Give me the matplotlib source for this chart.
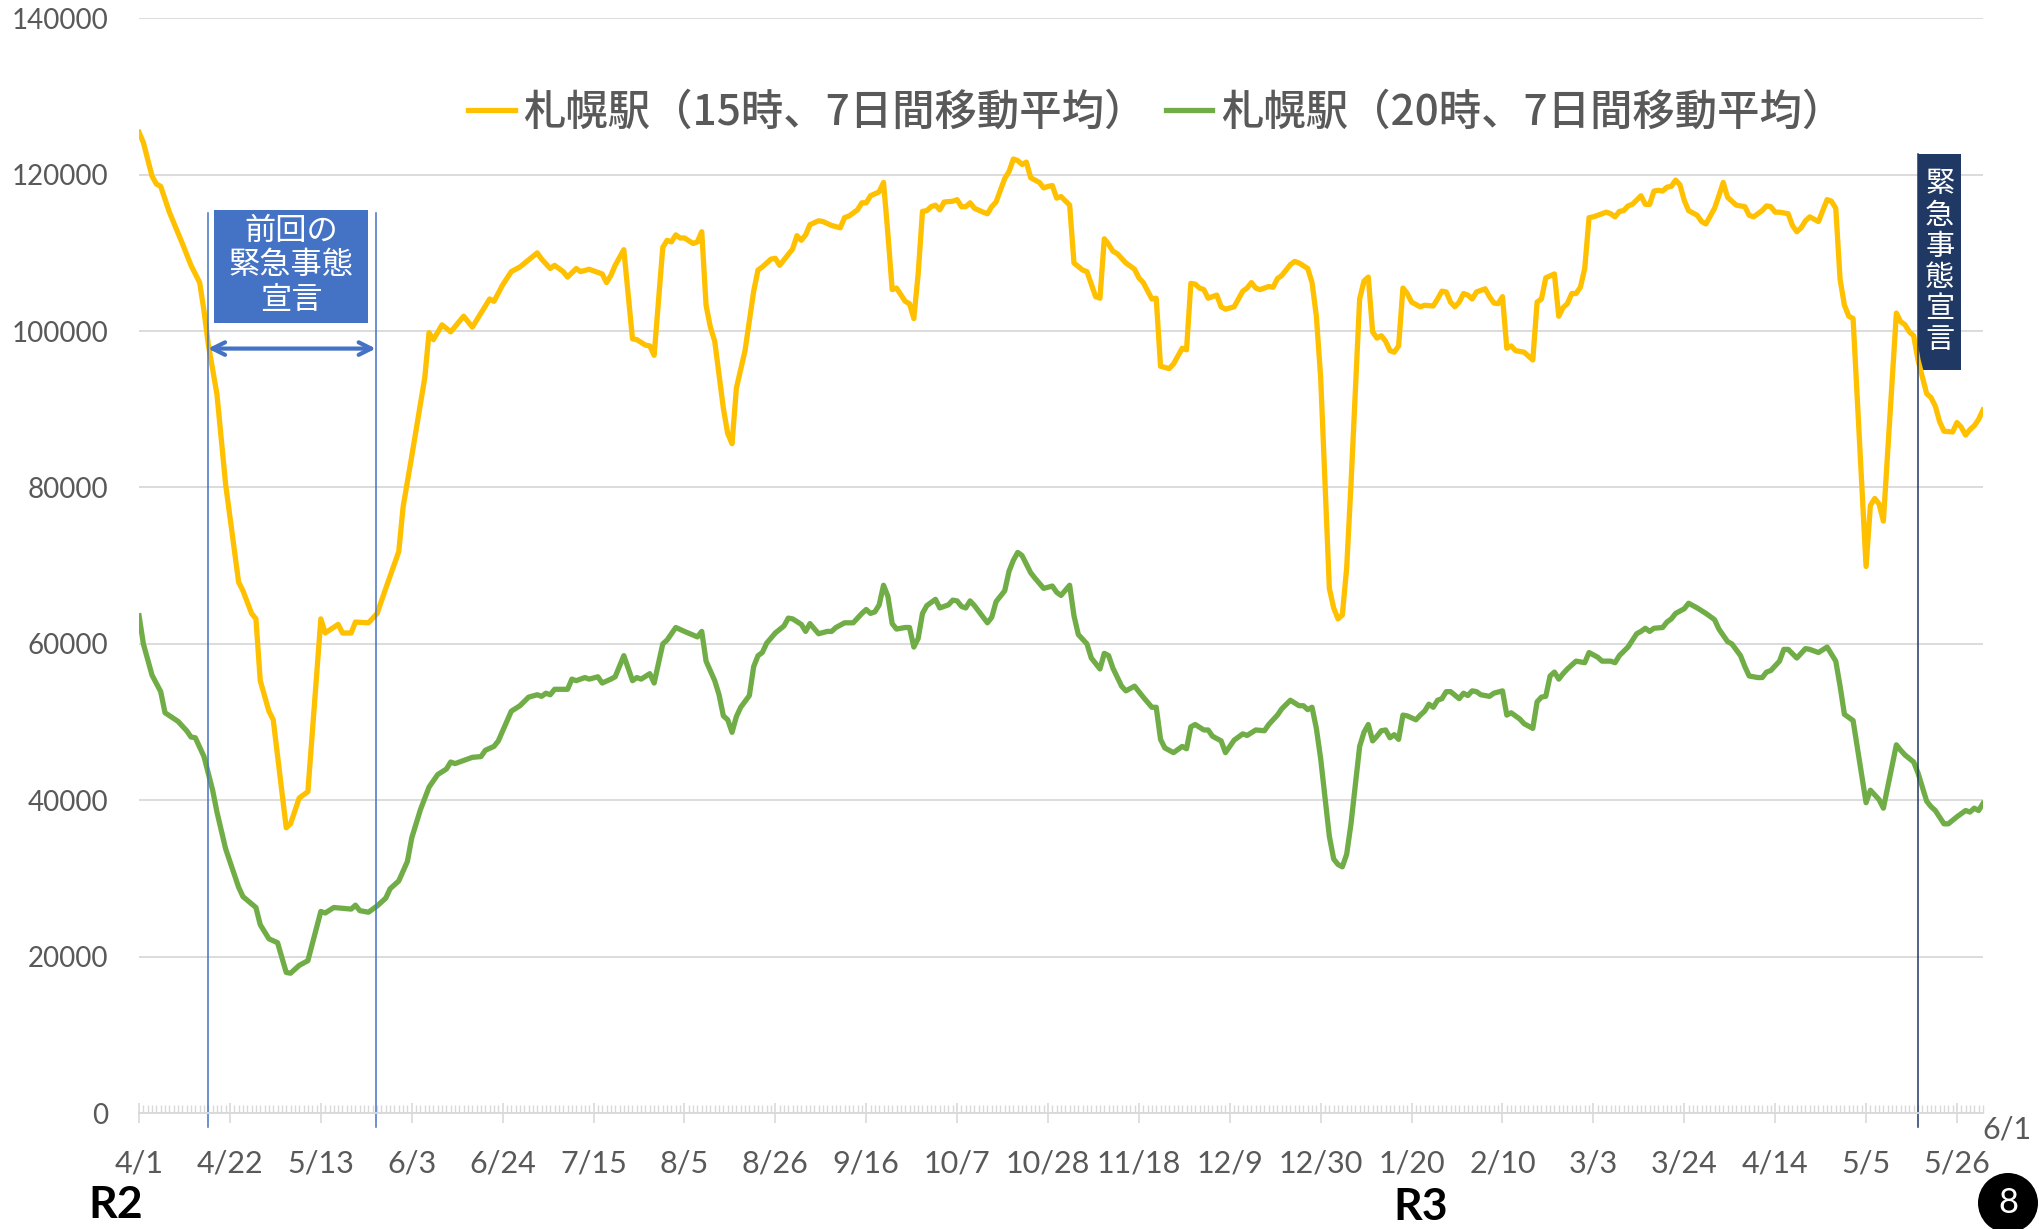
import matplotlib
matplotlib.use('Agg')
import matplotlib.pyplot as plt
from matplotlib.patches import Rectangle, Ellipse
from matplotlib.lines import Line2D
from matplotlib.ticker import MultipleLocator

plt.rcParams['font.family'] = ['Lato', 'Noto Sans CJK JP', 'DejaVu Sans']

# days since 2020-04-01 (R2 4/1) and 7-day moving average counts
y15_days = [0, 1, 3, 4, 5, 7, 10, 12, 14, 15, 16, 18, 20, 23, 24, 26, 27, 28, 30, 31,
            34, 35, 37, 39, 42, 43, 46, 47, 49, 50, 53, 55, 57, 60, 61, 63, 66, 67, 68, 70,
            72, 75, 77, 79, 81, 82, 84, 86, 88, 90, 92, 93, 95, 96, 98, 99, 101, 102, 104, 107,
            108, 109, 110, 112, 114, 115, 117, 118, 119, 121, 122, 123, 124, 125, 126, 128, 129, 130, 131, 132,
            133, 135, 136, 137, 138, 140, 142, 143, 144, 146, 147, 148, 149, 151, 152, 153, 154, 155, 157, 158,
            160, 162, 163, 164, 166, 167, 168, 169, 171, 172, 173, 174, 175, 177, 178, 179, 180, 181, 182, 183,
            184, 185, 186, 188, 189, 190, 191, 192, 193, 195, 196, 197, 198, 200, 201, 202, 203, 204, 205, 206,
            208, 209, 210, 211, 212, 213, 215, 216, 218, 219, 221, 222, 223, 224, 225, 226, 228, 230, 231, 232,
            234, 235, 236, 238, 239, 241, 242, 243, 244, 245, 246, 247, 249, 250, 251, 253, 255, 256, 257, 258,
            259, 261, 262, 263, 264, 265, 266, 267, 268, 270, 271, 272, 273, 275, 276, 277, 278, 279, 280, 282,
            283, 284, 285, 286, 287, 288, 289, 290, 291, 292, 293, 294, 296, 297, 299, 300, 301, 302, 303, 304,
            305, 306, 307, 308, 309, 311, 312, 313, 314, 315, 316, 317, 318, 320, 321, 322, 323, 324, 325, 327,
            328, 329, 330, 331, 332, 333, 334, 335, 336, 337, 339, 340, 341, 342, 343, 344, 345, 347, 348, 349,
            350, 351, 352, 353, 354, 355, 356, 357, 358, 360, 361, 362, 364, 365, 366, 367, 369, 371, 372, 373,
            375, 376, 377, 378, 379, 381, 382, 383, 384, 385, 386, 388, 389, 390, 391, 392, 393, 394, 395, 396,
            399, 400, 401, 402, 403, 406, 407, 408, 409, 410, 411, 413, 414, 415, 416, 417, 419, 420, 421, 422,
            423, 424, 425, 426]
y15_vals = [125400, 124100, 119800, 118800, 118500, 115200, 111200, 108400, 106200, 102600, 98300, 91900, 80400, 67900, 66800, 63900, 63200, 55300, 51400, 50300,
            36500, 37000, 40300, 41100, 63200, 61400, 62500, 61400, 61400, 62800, 62700, 63900, 67100, 71800, 77500, 84000, 94000, 99800, 98900, 100800,
            99900, 101900, 100500, 102300, 104100, 103800, 105900, 107600, 108200, 109100, 110000, 109200, 108000, 108400, 107600, 106900, 108000, 107600, 107900, 107300,
            106200, 107100, 108400, 110400, 99000, 98900, 98200, 98100, 96900, 110700, 111600, 111400, 112300, 111900, 111900, 111200, 111400, 112700, 103300, 100500,
            98700, 90100, 86900, 85600, 92700, 97500, 105100, 107800, 108200, 109200, 109300, 108400, 109100, 110500, 112200, 111600, 112300, 113600, 114100, 114000,
            113500, 113200, 114500, 114700, 115500, 116400, 116400, 117300, 117800, 119000, 112500, 105300, 105500, 103800, 103500, 101600, 107300, 115300, 115400, 115900,
            116100, 115500, 116500, 116600, 116800, 115900, 115900, 116400, 115700, 115200, 115000, 115900, 116500, 119500, 120400, 122000, 121800, 121300, 121600, 119600,
            119000, 118300, 118500, 118600, 117000, 117200, 116100, 108700, 107800, 107600, 104400, 104200, 111800, 111100, 110200, 109900, 108700, 107900, 106800, 106200,
            104100, 104200, 95500, 95200, 95800, 97800, 97600, 106100, 106000, 105500, 105300, 104200, 104600, 103100, 102800, 103100, 105100, 105500, 106200, 105500,
            105300, 105700, 105600, 106700, 107100, 107800, 108500, 108900, 108700, 108000, 106200, 101900, 94000, 67100, 64600, 63200, 63700, 69700, 80400, 104100,
            106400, 106900, 99900, 99100, 99400, 98700, 97500, 97300, 98100, 105500, 104800, 103700, 103100, 103300, 103200, 104100, 105100, 105000, 103700, 103100,
            103700, 104800, 104600, 104100, 105000, 105400, 104400, 103600, 103500, 104400, 97800, 98100, 97500, 97300, 96800, 96300, 103700, 104100, 106800, 107300,
            101900, 103000, 103500, 104800, 104800, 105600, 108000, 114500, 114600, 114800, 115200, 115000, 114600, 115300, 115400, 116000, 116200, 117300, 116200, 116200,
            117900, 118000, 117900, 118400, 118500, 119300, 118700, 116700, 115400, 114800, 114000, 113700, 115700, 117300, 119000, 117100, 116100, 115900, 114800, 114600,
            115400, 116000, 115900, 115200, 115200, 115000, 113500, 112700, 113200, 114100, 114600, 114000, 115400, 116800, 116600, 115700, 106600, 103300, 101900, 101600,
            69900, 77700, 78600, 77900, 75700, 102300, 101200, 100800, 99900, 99400, 96300, 92000, 91500, 90400, 88400, 87200, 87100, 88300, 87700, 86700,
            87400, 87900, 88700, 89900]

y20_days = [0, 1, 3, 5, 6, 9, 11, 12, 13, 15, 17, 18, 20, 23, 24, 27, 28, 30, 32, 34,
            35, 37, 39, 42, 43, 45, 49, 50, 51, 53, 55, 57, 58, 60, 62, 63, 65, 67, 69, 71,
            72, 73, 75, 77, 79, 80, 82, 83, 86, 88, 90, 92, 93, 94, 95, 96, 99, 100, 101, 103,
            104, 106, 107, 109, 110, 112, 114, 115, 116, 118, 119, 121, 122, 124, 126, 129, 130, 131, 133, 134,
            135, 136, 137, 138, 139, 141, 142, 143, 144, 145, 147, 149, 150, 151, 153, 154, 155, 157, 159, 160,
            161, 163, 165, 167, 168, 169, 170, 171, 172, 173, 174, 175, 177, 178, 179, 180, 181, 182, 184, 185,
            187, 188, 189, 190, 191, 192, 193, 196, 197, 198, 200, 201, 202, 203, 204, 206, 207, 209, 211, 212,
            213, 215, 216, 217, 219, 220, 222, 223, 224, 225, 227, 228, 230, 232, 234, 235, 236, 237, 239, 241,
            242, 243, 244, 246, 247, 248, 250, 251, 252, 253, 255, 256, 258, 260, 261, 263, 264, 266, 268, 269,
            270, 271, 272, 273, 275, 276, 277, 278, 279, 280, 282, 283, 284, 285, 286, 287, 288, 289, 290, 291,
            292, 293, 295, 296, 297, 298, 299, 300, 301, 302, 303, 305, 306, 307, 308, 309, 310, 312, 313, 315,
            316, 317, 319, 320, 322, 323, 324, 325, 326, 327, 328, 329, 330, 332, 334, 335, 337, 338, 340, 341,
            342, 344, 346, 347, 348, 349, 350, 352, 353, 354, 355, 357, 358, 360, 362, 364, 365, 367, 368, 370,
            371, 372, 374, 375, 376, 377, 379, 380, 381, 383, 385, 386, 388, 390, 392, 393, 394, 396, 399, 400,
            402, 403, 406, 407, 408, 410, 411, 413, 414, 415, 417, 418, 420, 422, 423, 424, 425, 426]
y20_vals = [63600, 60000, 56000, 53900, 51200, 50100, 48900, 48100, 48000, 45600, 41300, 38500, 33800, 28900, 27700, 26300, 24100, 22300, 21800, 18000,
            17900, 18900, 19500, 25800, 25600, 26300, 26100, 26600, 25900, 25700, 26500, 27500, 28700, 29700, 32200, 35200, 38800, 41700, 43300, 44000,
            44900, 44700, 45100, 45500, 45600, 46400, 46900, 47600, 51400, 52100, 53200, 53500, 53300, 53700, 53500, 54200, 54200, 55500, 55300, 55700,
            55500, 55800, 55000, 55500, 55800, 58500, 55300, 55700, 55500, 56200, 55000, 60000, 60500, 62100, 61600, 60900, 61600, 57800, 55300, 53500,
            50800, 50300, 48700, 50700, 51900, 53400, 57100, 58500, 58900, 60100, 61400, 62300, 63300, 63200, 62500, 61600, 62600, 61300, 61600, 61600,
            62100, 62700, 62700, 63900, 64400, 63900, 64100, 65000, 67500, 66100, 62600, 61900, 62100, 62100, 59600, 60700, 63900, 64900, 65700, 64600,
            65000, 65600, 65500, 64800, 64600, 65500, 64900, 62700, 63400, 65400, 66800, 69300, 70700, 71700, 71300, 69100, 68400, 67100, 67400, 66600,
            66200, 67500, 63600, 61200, 60000, 58200, 56800, 58800, 58500, 56900, 54600, 54000, 54600, 53200, 51900, 51900, 47800, 46700, 46100, 46900,
            46600, 49400, 49700, 49000, 49000, 48200, 47600, 46100, 46900, 47700, 48500, 48300, 49000, 48900, 49700, 50900, 51700, 52800, 52100, 52100,
            51600, 51900, 49200, 45300, 35400, 32500, 31800, 31500, 33100, 37000, 46900, 48700, 49700, 47600, 48200, 48900, 49000, 48000, 48400, 47800,
            50900, 50800, 50300, 50900, 51400, 52300, 51900, 52800, 53000, 53900, 53900, 53000, 53700, 53400, 54000, 53900, 53500, 53300, 53700, 54000,
            50900, 51200, 50400, 49800, 49200, 52600, 53200, 53300, 55900, 56400, 55500, 56200, 56800, 57800, 57600, 58900, 58300, 57800, 57800, 57600,
            58500, 59600, 61300, 61600, 62000, 61600, 62000, 62100, 62800, 63200, 63900, 64500, 65200, 64600, 63900, 63100, 61900, 60300, 60000, 58500,
            57100, 55900, 55700, 55700, 56400, 56600, 57800, 59300, 59300, 58200, 59400, 59300, 58900, 59600, 57800, 54600, 51000, 50200, 39700, 41300,
            40100, 39000, 47100, 46400, 45800, 44900, 43500, 39900, 39200, 38700, 37000, 37000, 37900, 38700, 38500, 39000, 38700, 39600]

tick_days = list(range(0, 421, 21))
tick_labels = ['4/1', '4/22', '5/13', '6/3', '6/24', '7/15', '8/5', '8/26', '9/16', '10/7', '10/28',
               '11/18', '12/9', '12/30', '1/20', '2/10', '3/3', '3/24', '4/14', '5/5', '5/26']
yticks = list(range(0, 140001, 20000))

# emergency declarations (as drawn on the slide)
prev_start, prev_end = 15.9, 54.7
new_start = 411.0

fig = plt.figure(figsize=(20.39, 12.29), dpi=100)
ax = fig.add_axes([0.0682, 0.0942, 0.9043, 0.891])

ax.plot(y15_days, y15_vals, color='#FFC000', lw=3.8, solid_joinstyle='round',
        label='札幌駅（15時、7日間移動平均）')
ax.plot(y20_days, y20_vals, color='#70AD47', lw=3.8, solid_joinstyle='round',
        label='札幌駅（20時、7日間移動平均）')

ax.set_xlim(0, 426)
ax.set_ylim(0, 140000)
ax.set_yticks(yticks)
ax.set_yticklabels([str(v) for v in yticks])
ax.yaxis.grid(True, color='#D9D9D9', lw=1.3)
ax.set_axisbelow(True)
for s in ['left', 'right', 'top']:
    ax.spines[s].set_visible(False)
ax.spines['bottom'].set_color('#D9D9D9')
ax.spines['bottom'].set_linewidth(1.3)

ax.set_xticks(tick_days)
ax.set_xticklabels(tick_labels)
ax.xaxis.set_minor_locator(MultipleLocator(1))
ax.tick_params(axis='x', which='major', direction='inout', length=14, width=1.2,
               color='#D9D9D9', labelsize=22, labelcolor='#595959', pad=19)
ax.tick_params(axis='x', which='minor', direction='in', length=6, width=1.0, color='#D9D9D9')
ax.tick_params(axis='y', length=0, labelsize=20, labelcolor='#595959', pad=22)

ax.annotate('6/1', xy=(426, 0), xytext=(17, -12), textcoords='offset points',
            ha='center', va='center', fontsize=22, color='#595959', annotation_clip=False)

# previous declaration
for d in (prev_start, prev_end):
    ax.plot([d, d], [115100, -1750], color='#4472C4', lw=1.1, clip_on=False)
ax.add_patch(Rectangle((17.3, 101000), 35.6, 14500, facecolor='#4472C4', edgecolor='none'))
ax.text(35.1, 108400, '前回の\n緊急事態\n宣言', ha='center', va='center', color='white',
        fontsize=22.5, linespacing=1.1, family=['Noto Sans CJK JP'])
ax.annotate('', xy=(prev_start, 97760), xytext=(prev_end, 97760),
            arrowprops=dict(arrowstyle='<->,head_length=0.9,head_width=0.45',
                            color='#4472C4', lw=3, shrinkA=0, shrinkB=0))

# current declaration
ax.plot([new_start, new_start], [122600, -1750], color='#203864', lw=1.1, clip_on=False)
ax.add_patch(Rectangle((new_start, 95000), 9.9, 27600, facecolor='#203864', edgecolor='none'))
ax.text(416, 108800, '\n'.join('緊急事態宣言'), ha='center', va='center', color='white',
        fontsize=21, linespacing=1.05, family=['Noto Sans CJK JP'])

handles = [Line2D([], [], color='#FFC000', lw=3.8), Line2D([], [], color='#70AD47', lw=3.8)]
fig.legend(handles, ['札幌駅（15時、7日間移動平均）', '札幌駅（20時、7日間移動平均）'],
           loc='center', bbox_to_anchor=(0.567, 0.9089), ncol=2, frameon=False,
           handlelength=1.1, handletextpad=0.2, columnspacing=0.45,
           prop={'family': ['Noto Sans CJK JP'], 'size': 30.5, 'weight': 'medium'},
           labelcolor='#595959')

fig.text(0.0569, 0.0195, 'R2', ha='center', va='center', fontsize=32, fontweight='bold', color='black')
fig.text(0.697, 0.018, 'R3', ha='center', va='center', fontsize=32, fontweight='bold', color='black')

fig.patches.append(Ellipse((2008 / 2039, 1 - 1203 / 1229), 60 / 2039, 60 / 1229,
                           transform=fig.transFigure, facecolor='black', edgecolor='none'))
fig.text(2008 / 2039, 1 - 1203 / 1229, '8', ha='center', va='center', fontsize=25, color='white')

fig.savefig('out.png', dpi=100)
